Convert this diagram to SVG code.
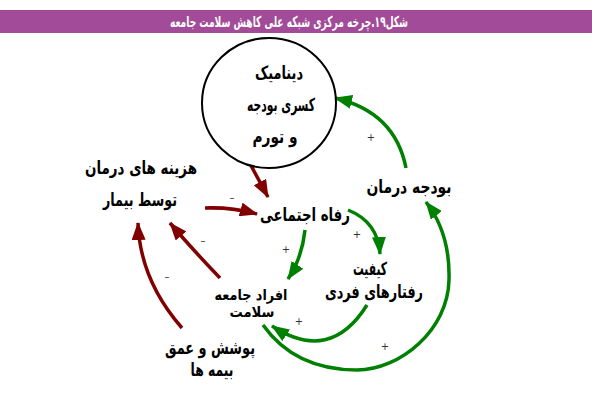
<svg xmlns="http://www.w3.org/2000/svg" width="592" height="408" viewBox="0 0 592 408">
<style>
.t{font-family:"DejaVu Sans",sans-serif;font-weight:bold;font-size:18px;fill:#000;text-anchor:middle}
.s{font-family:"DejaVu Sans",sans-serif;font-size:10px;fill:#333;text-anchor:middle}
.r{fill:none;stroke:#800000;stroke-width:3.5}
.g{fill:none;stroke:#008000;stroke-width:3.5}
</style>
<defs>
<marker id="ar" viewBox="0 0 18 14" refX="17" refY="7" markerWidth="18" markerHeight="14" markerUnits="userSpaceOnUse" orient="auto"><path d="M0,0 L18,7 L0,14 z" fill="#800000"/></marker>
<marker id="ag" viewBox="0 0 18 14" refX="17" refY="7" markerWidth="18" markerHeight="14" markerUnits="userSpaceOnUse" orient="auto"><path d="M0,0 L18,7 L0,14 z" fill="#008000"/></marker>
</defs>
<rect x="0" y="0" width="592" height="408" fill="#fff"/>
<g id="header">
<rect x="0" y="10" width="592" height="23" fill="#A24B98"/>
<text x="289" y="27" textLength="238" lengthAdjust="spacingAndGlyphs" style="font-family:'DejaVu Sans',sans-serif;font-weight:bold;font-size:15px;fill:#fff;text-anchor:middle">شکل۱۹.چرخه مرکزی شبکه علی کاهش سلامت جامعه</text>
</g>
<g id="connectors">
<path class="r" d="M248,160 L268,197" marker-end="url(#ar)"/>
<path class="r" d="M205,208 Q232,207 257,214" marker-end="url(#ar)"/>
<path class="r" d="M220,278 Q193,250 170,223" marker-end="url(#ar)"/>
<path class="r" d="M182,328 Q140,280 138,223" marker-end="url(#ar)"/>
<path class="g" d="M406,168 Q395,112 335,98" marker-end="url(#ag)"/>
<path class="g" d="M348,210 Q378,222 380,254" marker-end="url(#ag)"/>
<path class="g" d="M305,230 Q302,258 288,279" marker-end="url(#ag)"/>
<path class="g" d="M367,305 Q330,364 272,326" marker-end="url(#ag)"/>
<path class="g" d="M263,325 Q295,370 357,370 C400,370 448,330 449,280 C450,245 440,220 426,202" marker-end="url(#ag)"/>
<text class="s" x="232" y="201">–</text>
<text class="s" x="203" y="244">–</text>
<text class="s" x="167" y="280">–</text>
<text class="s" x="371" y="141">+</text>
<text class="s" x="357" y="238">+</text>
<text class="s" x="286" y="253">+</text>
<text class="s" x="299" y="325">+</text>
<text class="s" x="385" y="350">+</text>
</g>
<g id="n-circle">
<ellipse cx="269" cy="103" rx="67" ry="65" fill="#fff" stroke="#000" stroke-width="2"/>
<text class="t" x="279" y="79" textLength="48" lengthAdjust="spacingAndGlyphs">دینامیک</text>
<text class="t" x="281" y="111" textLength="68" lengthAdjust="spacingAndGlyphs">کسری بودجه</text>
<text class="t" x="275" y="143" textLength="45" lengthAdjust="spacingAndGlyphs">و تورم</text>
</g>
<g id="n-hazine">
<text class="t" x="141" y="174" textLength="112" lengthAdjust="spacingAndGlyphs">هزینه های درمان</text>
<text class="t" x="140" y="206" textLength="74" lengthAdjust="spacingAndGlyphs">توسط بیمار</text>
</g>
<g id="n-refah">
<text class="t" x="305" y="221" textLength="90" lengthAdjust="spacingAndGlyphs">رفاه اجتماعی</text>
</g>
<g id="n-budje">
<text class="t" x="409" y="193" textLength="85" lengthAdjust="spacingAndGlyphs">بودجه درمان</text>
</g>
<g id="n-keyfiat">
<text class="t" x="370" y="275" textLength="34" lengthAdjust="spacingAndGlyphs">کیفیت</text>
<text class="t" x="374" y="298" textLength="98" lengthAdjust="spacingAndGlyphs">رفتارهای فردی</text>
</g>
<g id="n-afrad">
<text class="t" x="251" y="300" textLength="73" lengthAdjust="spacingAndGlyphs" style="font-size:15px">افراد جامعه</text>
<text class="t" x="252" y="317" textLength="45" lengthAdjust="spacingAndGlyphs" style="font-size:15px">سلامت</text>
</g>
<g id="n-pooshesh">
<text class="t" x="210" y="354" textLength="90" lengthAdjust="spacingAndGlyphs">پوشش و عمق</text>
<text class="t" x="212" y="376" textLength="43" lengthAdjust="spacingAndGlyphs">بیمه ها</text>
</g>
</svg>
